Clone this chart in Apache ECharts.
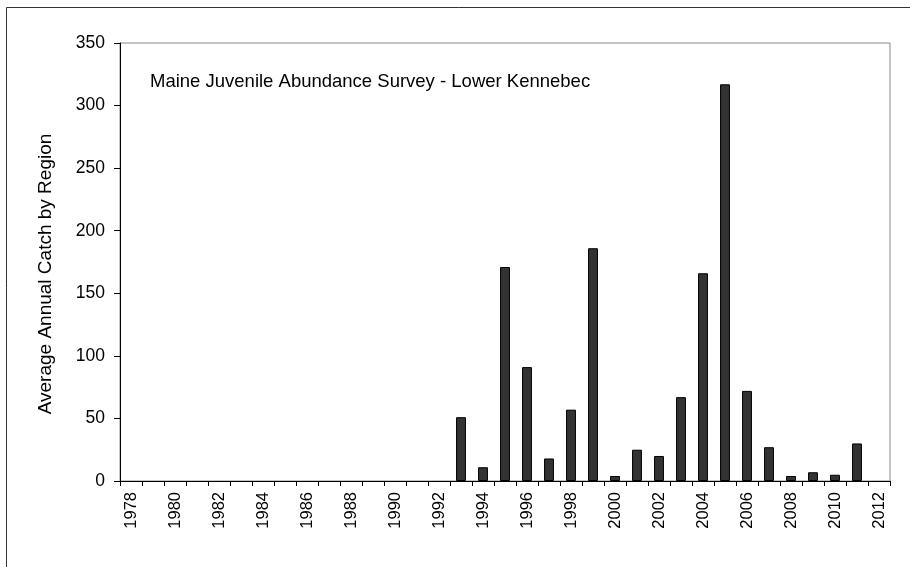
<!DOCTYPE html>
<html><head><meta charset="utf-8">
<script src="https://cdn.jsdelivr.net/npm/echarts@6/dist/echarts.min.js"></script>
<style>html,body{margin:0;padding:0;background:#fff}#c{width:910px;height:567px}</style>
</head><body><div id="c"></div>
<script>
var years = [];
for (var y = 1978; y <= 2012; y++) years.push(String(y));
var catchValues = [0,0,0,0,0,0,0,0,0,0,0,0,0,0,0,
  51, 11, 171, 91, 18, 57, 186, 4, 25, 20, 67, 166, 317, 72, 27, 4, 7, 5, 30, 0];
var yTicks = [0, 50, 100, 150, 200, 250, 300, 350];
var titleText = 'Maine Juvenile Abundance Survey - Lower Kennebec';
var yAxisName = 'Average Annual Catch by Region';

var chart = echarts.init(document.getElementById('c'), null, {renderer: 'canvas'});
var font = 'Liberation Sans, Arial, sans-serif';
chart.setOption({
  animation: false,
  backgroundColor: '#fff',
  grid: {left: 120, right: 20, top: 43, bottom: 86, show: true, borderColor: '#888', borderWidth: 1, backgroundColor: 'transparent'},
  graphic: [
    {type: 'rect', shape: {x: 6.5, y: 7.5, width: 920, height: 580}, style: {fill: 'none', stroke: '#333', lineWidth: 1}, silent: true},
    {type: 'text', x: 150, y: 81.5, style: {text: titleText, font: '18.5px ' + font, fill: '#000', verticalAlign: 'middle'}},
    {type: 'text', x: 46, y: 274, rotation: Math.PI / 2, style: {text: yAxisName, font: '19px ' + font, fill: '#000', align: 'center', verticalAlign: 'middle'}}
  ],
  xAxis: {
    type: 'category', data: years,
    boundaryGap: true,
    axisLine: {lineStyle: {color: '#000', width: 1}},
    axisTick: {show: true, interval: 0, length: 5, lineStyle: {color: '#000'}},
    axisLabel: {interval: 1, rotate: 90, fontSize: 16.5, fontFamily: font, color: '#000', margin: 11},
    splitLine: {show: false}
  },
  yAxis: {
    type: 'value', min: 0, max: 350, interval: 50,
    axisLine: {show: true, lineStyle: {color: '#000', width: 1}},
    axisTick: {show: true, length: 6, inside: false, lineStyle: {color: '#000'}},
    axisLabel: {fontSize: 17.5, fontFamily: font, color: '#000', margin: 15,
      formatter: function (v) { return yTicks.indexOf(v) >= 0 ? String(v) : ''; }},
    splitLine: {show: false}
  },
  series: [{
    type: 'bar',
    data: catchValues.map(function (v) { return v === 0 ? '-' : v; }),
    barWidth: '45%',
    itemStyle: {color: '#333333', borderColor: '#000', borderWidth: 1}
  }]
});
</script></body></html>
